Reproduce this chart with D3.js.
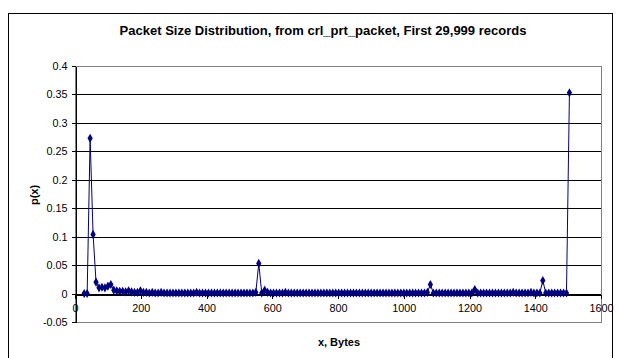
<!DOCTYPE html>
<html>
<head>
<meta charset="utf-8">
<script src="https://cdn.jsdelivr.net/npm/d3@7"></script>
<style>
  body { margin: 0; background: #fff; }
  svg text { font-family: "Liberation Sans", Arial, sans-serif; }
</style>
</head>
<body>
<div id="chart"></div>
<script>
// packet size bins (bytes)
var sizes = [
  28, 37, 46, 55, 64, 73, 82, 91, 100, 109,
  118, 127, 136, 145, 154, 163, 172, 181, 190, 199,
  208, 217, 226, 235, 244, 253, 262, 271, 280, 289,
  298, 307, 316, 325, 334, 343, 352, 361, 370, 379,
  388, 397, 406, 415, 424, 433, 442, 451, 460, 469,
  478, 487, 496, 505, 514, 523, 532, 541, 550, 559,
  568, 577, 586, 595, 604, 613, 622, 631, 640, 649,
  658, 667, 676, 685, 694, 703, 712, 721, 730, 739,
  748, 757, 766, 775, 784, 793, 802, 811, 820, 829,
  838, 847, 856, 865, 874, 883, 892, 901, 910, 919,
  928, 937, 946, 955, 964, 973, 982, 991, 1000, 1009,
  1018, 1027, 1036, 1045, 1054, 1063, 1072, 1081, 1090, 1099,
  1108, 1117, 1126, 1135, 1144, 1153, 1162, 1171, 1180, 1189,
  1198, 1207, 1216, 1225, 1234, 1243, 1252, 1261, 1270, 1279,
  1288, 1297, 1306, 1315, 1324, 1333, 1342, 1351, 1360, 1369,
  1378, 1387, 1396, 1405, 1414, 1423, 1432, 1441, 1450, 1459,
  1468, 1477, 1486, 1495, 1504
];
// p(x) for each bin
var probs = [
  0, 0, 0.273, 0.104, 0.020, 0.010, 0.011, 0.010, 0.013, 0.016,
  0.006, 0.005, 0.004, 0.004, 0.003, 0.005, 0.003, 0.002, 0.002, 0.005,
  0.002, 0.002, 0.001, 0.002, 0.001, 0.001, 0.002, 0.001, 0.001, 0.001,
  0.001, 0.001, 0.001, 0.001, 0.001, 0.001, 0.001, 0.001, 0.002, 0.001,
  0.001, 0.001, 0.001, 0.001, 0.001, 0.001, 0.001, 0.001, 0.001, 0.001,
  0.001, 0.001, 0.001, 0.001, 0.001, 0.001, 0.001, 0.001, 0.002, 0.053,
  0.001, 0.006, 0.002, 0.001, 0.001, 0.001, 0.001, 0.001, 0.002, 0.001,
  0.001, 0.001, 0.001, 0.001, 0.001, 0.001, 0.001, 0.001, 0.001, 0.001,
  0.001, 0.001, 0.001, 0.001, 0.001, 0.001, 0.001, 0.001, 0.001, 0.001,
  0.001, 0.001, 0.001, 0.001, 0.001, 0.001, 0.001, 0.001, 0.001, 0.001,
  0.001, 0.001, 0.001, 0.001, 0.001, 0.001, 0.001, 0.001, 0.001, 0.001,
  0.001, 0.001, 0.001, 0.001, 0.001, 0.001, 0.002, 0.016, 0.001, 0.001,
  0.001, 0.001, 0.001, 0.001, 0.001, 0.001, 0.001, 0.001, 0.001, 0.001,
  0.001, 0.001, 0.007, 0.001, 0.001, 0.001, 0.001, 0.001, 0.001, 0.001,
  0.001, 0.001, 0.001, 0.001, 0.001, 0.002, 0.001, 0.001, 0.001, 0.001,
  0.001, 0.002, 0.001, 0.001, 0.001, 0.023, 0.001, 0.001, 0.001, 0.001,
  0.001, 0.001, 0.001, 0.001, 0.353
];
var xTicks = [0, 200, 400, 600, 800, 1000, 1200, 1400, 1600];
var yTicks = [-0.05, 0, 0.05, 0.1, 0.15, 0.2, 0.25, 0.3, 0.35, 0.4];

var W = 621, H = 358;
var margin = { top: 66, right: 20, bottom: 36, left: 75 };
var width = W - margin.left - margin.right;   // 526
var height = H - margin.top - margin.bottom;  // 256

var data = sizes.map(function (s, i) { return [s, probs[i]]; });

var xScale = d3.scaleLinear().domain([0, 1600]).range([0, width]);
var yScale = d3.scaleLinear().domain([-0.05, 0.4]).range([height, 0]);

var svg = d3.select("#chart").append("svg")
  .attr("width", W)
  .attr("height", H);

// outer chart frame
svg.append("rect")
  .attr("x", 8.5).attr("y", 13.5)
  .attr("width", 604).attr("height", 360)
  .attr("fill", "none").attr("stroke", "#000").attr("stroke-width", 1);

svg.append("text")
  .attr("x", 323).attr("y", 35)
  .attr("text-anchor", "middle")
  .style("font-size", "13px").style("font-weight", "bold")
  .text("Packet Size Distribution, from crl_prt_packet, First 29,999 records");

var g = svg.append("g")
  .attr("transform", "translate(" + margin.left + "," + margin.top + ")");

// gridlines
g.selectAll("line.grid")
  .data(yTicks.filter(function (d) { return d !== -0.05; }))
  .enter().append("line")
  .attr("class", "grid")
  .attr("x1", 0).attr("x2", width)
  .attr("y1", function (d) { return Math.round(yScale(d)) + 0.5; })
  .attr("y2", function (d) { return Math.round(yScale(d)) + 0.5; })
  .attr("stroke", "#000").attr("stroke-width", 1)
  .attr("shape-rendering", "crispEdges");

// plot area border
g.append("rect")
  .attr("x", 0.5).attr("y", 0.5)
  .attr("width", width).attr("height", Math.round(height))
  .attr("fill", "none").attr("stroke", "#808080")
  .attr("shape-rendering", "crispEdges");

// y axis
var yAxis = d3.axisLeft(yScale).tickValues(yTicks).tickSize(4).tickSizeOuter(0)
  .tickFormat(function (d) { return String(+d.toFixed(2)); });
var ya = g.append("g").attr("transform", "translate(0.5,0)").call(yAxis);
ya.selectAll("text").style("font-size", "10.8px").attr("x", -8);

// x axis at y = 0
var xAxis = d3.axisBottom(xScale).tickValues(xTicks).tickSize(4).tickSizeOuter(0)
  .tickFormat(function (d) { return String(d); });
var xa = g.append("g")
  .attr("transform", "translate(0," + (Math.round(yScale(0)) + 0.5) + ")")
  .call(xAxis);
xa.selectAll("text").style("font-size", "10.8px").attr("y", 10);

svg.selectAll(".domain, .tick line").attr("stroke", "#000").attr("shape-rendering", "crispEdges");
svg.selectAll(".tick text").attr("fill", "#000");

// series line
var line = d3.line()
  .x(function (d) { return xScale(d[0]); })
  .y(function (d) { return yScale(d[1]); });

g.append("path")
  .datum(data)
  .attr("d", line)
  .attr("fill", "none")
  .attr("stroke", "#000080")
  .attr("stroke-width", 1);

g.selectAll("path.pt")
  .data(data)
  .enter().append("path")
  .attr("class", "pt")
  .attr("d", d3.symbol().type(d3.symbolDiamond).size(24))
  .attr("transform", function (d) { return "translate(" + xScale(d[0]) + "," + yScale(d[1]) + ")"; })
  .attr("fill", "#000080");

// axis titles
svg.append("text")
  .attr("x", 339).attr("y", 346)
  .attr("text-anchor", "middle")
  .style("font-size", "11px").style("font-weight", "bold")
  .text("x, Bytes");

svg.append("text")
  .attr("transform", "translate(38,195) rotate(-90)")
  .attr("text-anchor", "middle")
  .style("font-size", "11px").style("font-weight", "bold")
  .text("p(x)");
</script>
</body>
</html>
